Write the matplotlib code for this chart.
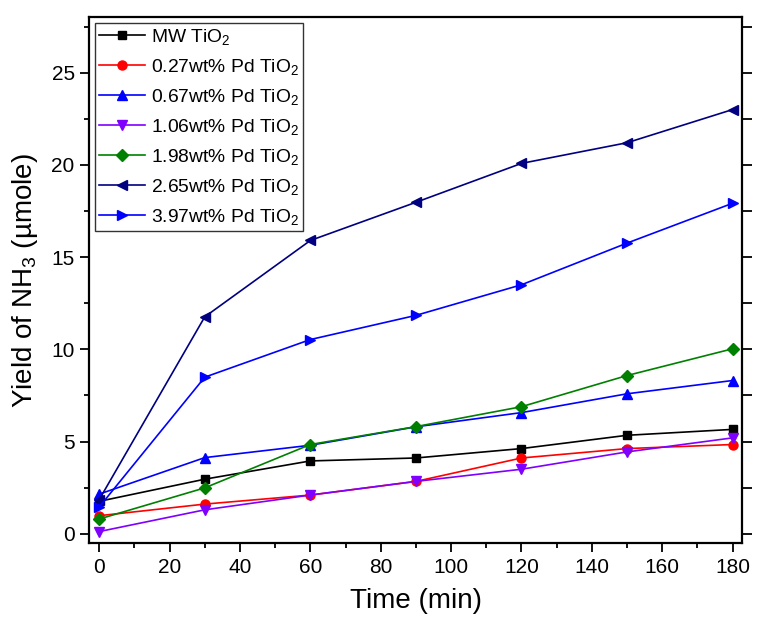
import numpy as np
from matplotlib import pyplot as plt
from matplotlib.ticker import MultipleLocator

plt.rcParams['font.family'] = ['Liberation Sans', 'DejaVu Sans']
plt.rcParams['mathtext.fontset'] = 'custom'
plt.rcParams['mathtext.rm'] = 'Liberation Sans'
plt.rcParams['mathtext.it'] = 'Liberation Sans'
plt.rcParams['mathtext.default'] = 'regular'

# time points (min)
tiempo = [0, 30, 60, 90, 120, 150, 180]

# yield of NH3 (umole) for each catalyst
mw_tio2 = [1.76, 2.96, 3.95, 4.11, 4.62, 5.34, 5.66]
pd_027 = [0.98, 1.61, 2.10, 2.84, 4.11, 4.62, 4.84]
pd_067 = [2.15, 4.13, 4.80, 5.80, 6.57, 7.59, 8.31]
pd_106 = [0.12, 1.30, 2.10, 2.84, 3.50, 4.44, 5.20]
pd_198 = [0.80, 2.49, 4.84, 5.81, 6.89, 8.58, 10.03]
pd_265 = [1.85, 11.76, 15.90, 17.97, 20.08, 21.20, 23.00]
pd_397 = [1.45, 8.49, 10.53, 11.84, 13.50, 15.76, 17.92]

series = [mw_tio2, pd_027, pd_067, pd_106, pd_198, pd_265, pd_397]
labels = ['MW TiO$_2$', '0.27wt% Pd TiO$_2$', '0.67wt% Pd TiO$_2$',
          '1.06wt% Pd TiO$_2$', '1.98wt% Pd TiO$_2$', '2.65wt% Pd TiO$_2$',
          '3.97wt% Pd TiO$_2$']
cores = ['#000000', '#ff0000', '#0000ff', '#8000ff', '#008000', '#000080', '#0000ff']
marcadores = ['s', 'o', '^', 'v', 'D', '<', '>']
tamanhos = [6, 6.5, 7, 7, 6, 7, 7]

fig = plt.figure(figsize=(7.74, 6.36), dpi=100)
ax = fig.add_axes([0.1154, 0.1462, 0.8439, 0.8266])

for y, lab, c, m, ms in zip(series, labels, cores, marcadores, tamanhos):
    ax.plot(tiempo, y, color=c, marker=m, markersize=ms, linewidth=1.2, label=lab)

ax.set_xlim(-2.8, 182.8)
ax.set_ylim(-0.5, 28)
ax.xaxis.set_major_locator(MultipleLocator(20))
ax.xaxis.set_minor_locator(MultipleLocator(10))
ax.yaxis.set_major_locator(MultipleLocator(5))
ax.yaxis.set_minor_locator(MultipleLocator(2.5))

ax.tick_params(axis='both', which='major', direction='out', length=6.5, width=1.3,
               labelsize=15, pad=4)
ax.tick_params(axis='both', which='minor', direction='out', length=3.5, width=1.3)
ax.tick_params(axis='y', which='both', right=True, labelright=False)
# ticks do lado direito todos do mesmo tamanho
for lin in ax.yaxis.get_ticklines(minor=False)[1::2]:
    lin.set_markersize(7)
for lin in ax.yaxis.get_ticklines(minor=True)[1::2]:
    lin.set_markersize(7)

for s in ax.spines.values():
    s.set_linewidth(1.6)

ax.set_xlabel('Time (min)', fontsize=20, labelpad=8)
ax.set_ylabel('Yield of NH$_3$ (µmole)', fontsize=20, labelpad=8)

leg = ax.legend(loc='upper left', fontsize=13.9, frameon=True, fancybox=False,
                edgecolor='black', handlelength=2.4, handletextpad=0.3,
                labelspacing=0.52, borderpad=0.2, borderaxespad=0.3)
leg.get_frame().set_linewidth(1.0)

plt.savefig('out.png', dpi=100)
plt.close()
